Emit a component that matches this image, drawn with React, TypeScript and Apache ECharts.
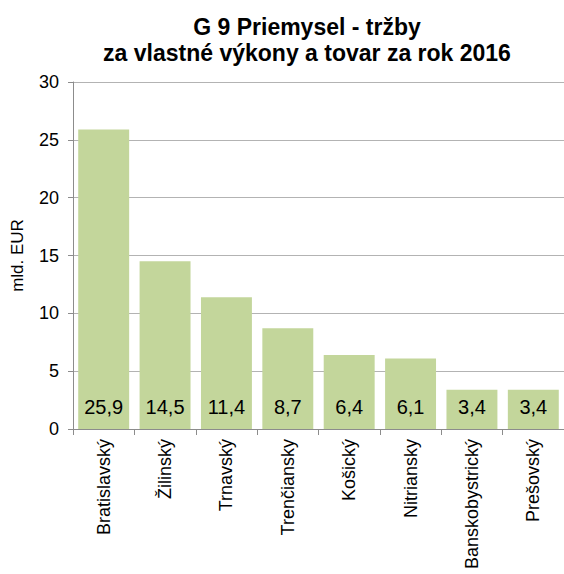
import React, { useEffect, useRef } from "react";
import * as echarts from "echarts";

const titleLines = ["G 9 Priemysel - tržby", "za vlastné výkony a tovar za rok 2016"];
const regions = [
  "Bratislavský",
  "Žilinský",
  "Trnavský",
  "Trenčiansky",
  "Košický",
  "Nitriansky",
  "Banskobystrický",
  "Prešovský",
];
const revenues = [25.9, 14.5, 11.4, 8.7, 6.4, 6.1, 3.4, 3.4];
const yAxisName = "mld. EUR";
const yMin = 0;
const yMax = 30;
const yStep = 5;

const FONT = "'Liberation Sans', Arial, sans-serif";

export default function App() {
  const ref = useRef<HTMLDivElement>(null);
  useEffect(() => {
    if (!ref.current) return;
    const chart = echarts.init(ref.current, null, { renderer: "svg" });
    chart.setOption({
      animation: false,
      backgroundColor: "#ffffff",
      graphic: [
        {
          type: "text",
          x: 307,
          y: 27,
          style: {
            text: titleLines[0],
            font: `bold 23px ${FONT}`,
            fill: "#000",
            textAlign: "center",
            textVerticalAlign: "middle",
          },
        },
        {
          type: "text",
          x: 307,
          y: 53,
          style: {
            text: titleLines[1],
            font: `bold 23px ${FONT}`,
            fill: "#000",
            textAlign: "center",
            textVerticalAlign: "middle",
          },
        },
      ],
      grid: { left: 73, right: -1, top: 82, bottom: 145, containLabel: false },
      xAxis: {
        type: "category",
        data: regions,
        axisLine: { show: true, lineStyle: { color: "#8c8c8c", width: 1 } },
        axisTick: { show: true, interval: 0, length: 6, lineStyle: { color: "#8c8c8c" } },
        axisLabel: {
          interval: 0,
          rotate: 90,
          margin: 10,
          fontSize: 18,
          fontFamily: FONT,
          color: "#000",
        },
      },
      yAxis: {
        type: "value",
        min: yMin,
        max: yMax,
        interval: yStep,
        name: yAxisName,
        nameLocation: "middle",
        nameRotate: 90,
        nameGap: 47,
        nameTextStyle: { fontSize: 17, fontFamily: FONT, color: "#000" },
        axisLine: { show: true, lineStyle: { color: "#8c8c8c", width: 1 } },
        axisTick: { show: true, length: 5, lineStyle: { color: "#8c8c8c" } },
        axisLabel: { fontSize: 18, fontFamily: FONT, color: "#000", margin: 14 },
        splitLine: { show: true, lineStyle: { color: "#b3b3b3", width: 1 } },
      },
      series: [
        {
          type: "bar",
          data: revenues,
          barCategoryGap: "17%",
          itemStyle: { color: "#c3d69b" },
          label: {
            show: true,
            position: "insideBottom",
            distance: 12,
            fontSize: 20,
            fontFamily: FONT,
            color: "#000",
            formatter: (p: any) => String(p.value).replace(".", ","),
          },
        },
      ],
    });
    return () => chart.dispose();
  }, []);
  return (
    <div
      ref={ref}
      style={{ position: "absolute", left: 0, top: 0, width: 564, height: 574 }}
    />
  );
}
